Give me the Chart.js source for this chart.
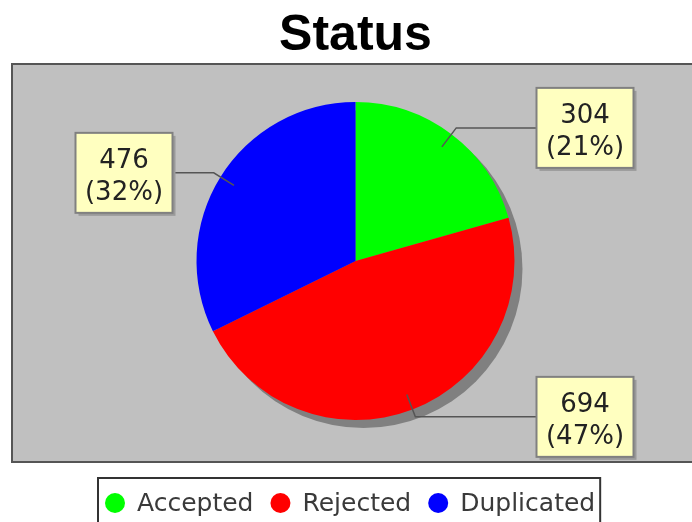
<!DOCTYPE html>
<html><head><meta charset="utf-8">
<script src="https://cdn.jsdelivr.net/npm/chart.js@4.4.1/dist/chart.umd.min.js"></script>
<style>html,body{margin:0;padding:0;background:#fff;} canvas{display:block;}</style>
</head><body>
<canvas id="c" width="692" height="522"></canvas>
<script>
const chartTitle = "Status";
const categories = ["Accepted", "Rejected", "Duplicated"];
const counts = [304, 694, 476];
const sliceColors = ["#00FF00", "#FF0000", "#0000FF"];

const total = counts.reduce((a, b) => a + b, 0);

const framePlugin = {
  id: 'frame',
  beforeDraw(chart) {
    const ctx = chart.ctx;
    ctx.save();
    ctx.fillStyle = '#ffffff';
    ctx.fillRect(0, 0, chart.width, chart.height);
    // plot background
    ctx.fillStyle = '#C0C0C0';
    ctx.fillRect(12, 64, 700, 398);
    ctx.strokeStyle = '#555555';
    ctx.lineWidth = 2;
    ctx.strokeRect(12, 64, 700, 398);
    // title
    ctx.fillStyle = '#000000';
    ctx.font = 'bold 50px "Liberation Sans", Arial, sans-serif';
    ctx.textAlign = 'center';
    ctx.textBaseline = 'alphabetic';
    ctx.fillText(chartTitle, 355.5, 50);
    // legend
    ctx.font = '25px "DejaVu Sans", sans-serif';
    ctx.textBaseline = 'middle';
    ctx.textAlign = 'left';
    let x = 105;
    const ly = 503;
    categories.forEach((c, i) => {
      ctx.fillStyle = sliceColors[i];
      ctx.beginPath();
      ctx.arc(x + 10, ly, 10, 0, Math.PI * 2);
      ctx.fill();
      ctx.fillStyle = '#3a3a3a';
      ctx.fillText(c, x + 32, ly + 1);
      x += 32 + ctx.measureText(c).width + 17;
    });
    ctx.strokeStyle = '#333333';
    ctx.lineWidth = 2;
    ctx.strokeRect(98, 478, x - 17 + 5 - 98, 60);
    ctx.restore();
  },
  beforeDatasetsDraw(chart) {
    const arc = chart.getDatasetMeta(0).data[0];
    if (!arc) return;
    const ctx = chart.ctx;
    ctx.save();
    ctx.fillStyle = '#808080';
    ctx.beginPath();
    ctx.arc(arc.x + 8, arc.y + 8, arc.outerRadius, 0, Math.PI * 2);
    ctx.fill();
    ctx.restore();
  },
  afterDatasetsDraw(chart) {
    const ctx = chart.ctx;
    const meta = chart.getDatasetMeta(0);
    ctx.save();
    meta.data.forEach((arc, i) => {
      const mid = (arc.startAngle + arc.endAngle) / 2;
      const R = arc.outerRadius;
      const cx = arc.x, cy = arc.y;
      const ix = cx + Math.cos(mid) * R * 0.9, iy = cy + Math.sin(mid) * R * 0.9;
      const ox = cx + Math.cos(mid) * R * 1.05, oy = cy + Math.sin(mid) * R * 1.05;
      const right = Math.cos(mid) >= 0;
      const bw = 97, bh = 80;
      const edge = right ? cx + 181 : cx - 183;
      const bx = right ? edge : edge - bw;
      const by = oy - bh / 2;
      // leader
      ctx.strokeStyle = '#555555';
      ctx.lineWidth = 1.5;
      ctx.beginPath();
      ctx.moveTo(ix, iy);
      ctx.lineTo(ox, oy);
      ctx.lineTo(edge, oy);
      ctx.stroke();
      // box shadow
      ctx.fillStyle = '#9a9a9a';
      ctx.fillRect(bx + 3, by + 3, bw, bh);
      ctx.fillStyle = '#FFFFC0';
      ctx.fillRect(bx, by, bw, bh);
      ctx.strokeStyle = '#808080';
      ctx.lineWidth = 2;
      ctx.strokeRect(bx, by, bw, bh);
      // text
      ctx.fillStyle = '#222222';
      ctx.font = '26px "DejaVu Sans", sans-serif';
      ctx.textAlign = 'center';
      ctx.textBaseline = 'middle';
      const pct = Math.round(counts[i] / total * 100);
      ctx.fillText(String(counts[i]), bx + bw / 2, by + bh / 2 - 12);
      ctx.fillText('(' + pct + '%)', bx + bw / 2, by + bh / 2 + 20);
    });
    ctx.restore();
  }
};

new Chart(document.getElementById('c'), {
  type: 'pie',
  data: {
    labels: categories,
    datasets: [{
      data: counts,
      backgroundColor: sliceColors,
      borderWidth: 0,
      hoverOffset: 0,
      offset: 0
    }]
  },
  options: {
    responsive: false,
    devicePixelRatio: 1,
    animation: false,
    events: [],
    layout: { padding: { left: 196, right: 177, top: 102, bottom: 102 } },
    plugins: {
      legend: { display: false },
      title: { display: false },
      tooltip: { enabled: false }
    }
  },
  plugins: [framePlugin]
});
</script>
</body></html>
